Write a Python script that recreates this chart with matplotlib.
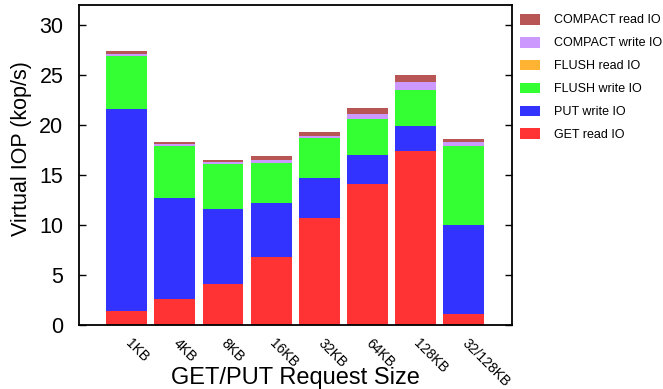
import matplotlib
matplotlib.use("Agg")
import matplotlib.pyplot as plt
import matplotlib.transforms as mtransforms
import numpy as np

plt.rcParams["font.family"] = ["Liberation Sans", "DejaVu Sans"]

sizes = ["1KB", "4KB", "8KB", "16KB", "32KB", "64KB", "128KB", "32/128KB"]

# stacked components (kop/s), bottom to top
get_read = [1.4, 2.6, 4.1, 6.8, 10.7, 14.1, 17.4, 1.1]
put_write = [20.2, 10.1, 7.5, 5.4, 4.0, 2.9, 2.5, 8.9]
flush_write = [5.3, 5.2, 4.5, 4.0, 4.0, 3.6, 3.6, 7.9]
flush_read = [0.0, 0.0, 0.0, 0.0, 0.0, 0.0, 0.0, 0.0]
compact_write = [0.2, 0.2, 0.2, 0.3, 0.2, 0.5, 0.8, 0.4]
compact_read = [0.3, 0.2, 0.2, 0.4, 0.4, 0.6, 0.7, 0.3]

series = [
    ("GET read IO", get_read, "#ff3333"),
    ("PUT write IO", put_write, "#3333ff"),
    ("FLUSH write IO", flush_write, "#33ff33"),
    ("FLUSH read IO", flush_read, "#ffb333"),
    ("COMPACT write IO", compact_write, "#cc99ff"),
    ("COMPACT read IO", compact_read, "#b85555"),
]

fig = plt.figure(figsize=(6.63, 3.89), dpi=100)
ax = fig.add_axes([0.1187, 0.1645, 0.6531, 0.8225])

x = np.arange(len(sizes))
bottom = np.zeros(len(sizes))
handles = []
for name, vals, col in series:
    vals = np.array(vals)
    h = ax.bar(x, vals, bottom=bottom, width=0.85, color=col, label=name,
               linewidth=0)
    handles.append(h)
    bottom += vals

ax.set_xlim(-1, len(sizes))
ax.set_ylim(0, 32)
ax.set_yticks([0, 5, 10, 15, 20, 25, 30])
ax.tick_params(axis="y", direction="in", right=True, labelsize=15.5,
               length=5, width=1, pad=11)
ax.set_xticks(x)
ax.set_xticklabels(sizes, rotation=-45, ha="left", va="top", fontsize=10,
                   rotation_mode="anchor")
ax.tick_params(axis="x", length=0, pad=8)
shift = mtransforms.ScaledTranslation(4 / 72, 0, fig.dpi_scale_trans)
for lbl in ax.get_xticklabels():
    lbl.set_transform(lbl.get_transform() + shift)
for s in ax.spines.values():
    s.set_linewidth(1.3)

ax.set_ylabel("Virtual IOP (kop/s)", fontsize=15.5)
ax.yaxis.set_label_coords(-0.108, 0.55)
ax.set_xlabel("GET/PUT Request Size", fontsize=17, va="center")
ax.xaxis.set_label_coords(0.5, -0.165)

ax.legend(handles[::-1], [s[0] for s in series][::-1],
          loc="upper left", bbox_to_anchor=(1.0, 1.0), frameon=False,
          fontsize=9, handlelength=1.55, handleheight=0.95,
          labelspacing=0.82, handletextpad=1.1, borderaxespad=0.3)

fig.savefig("out.png", dpi=100)
